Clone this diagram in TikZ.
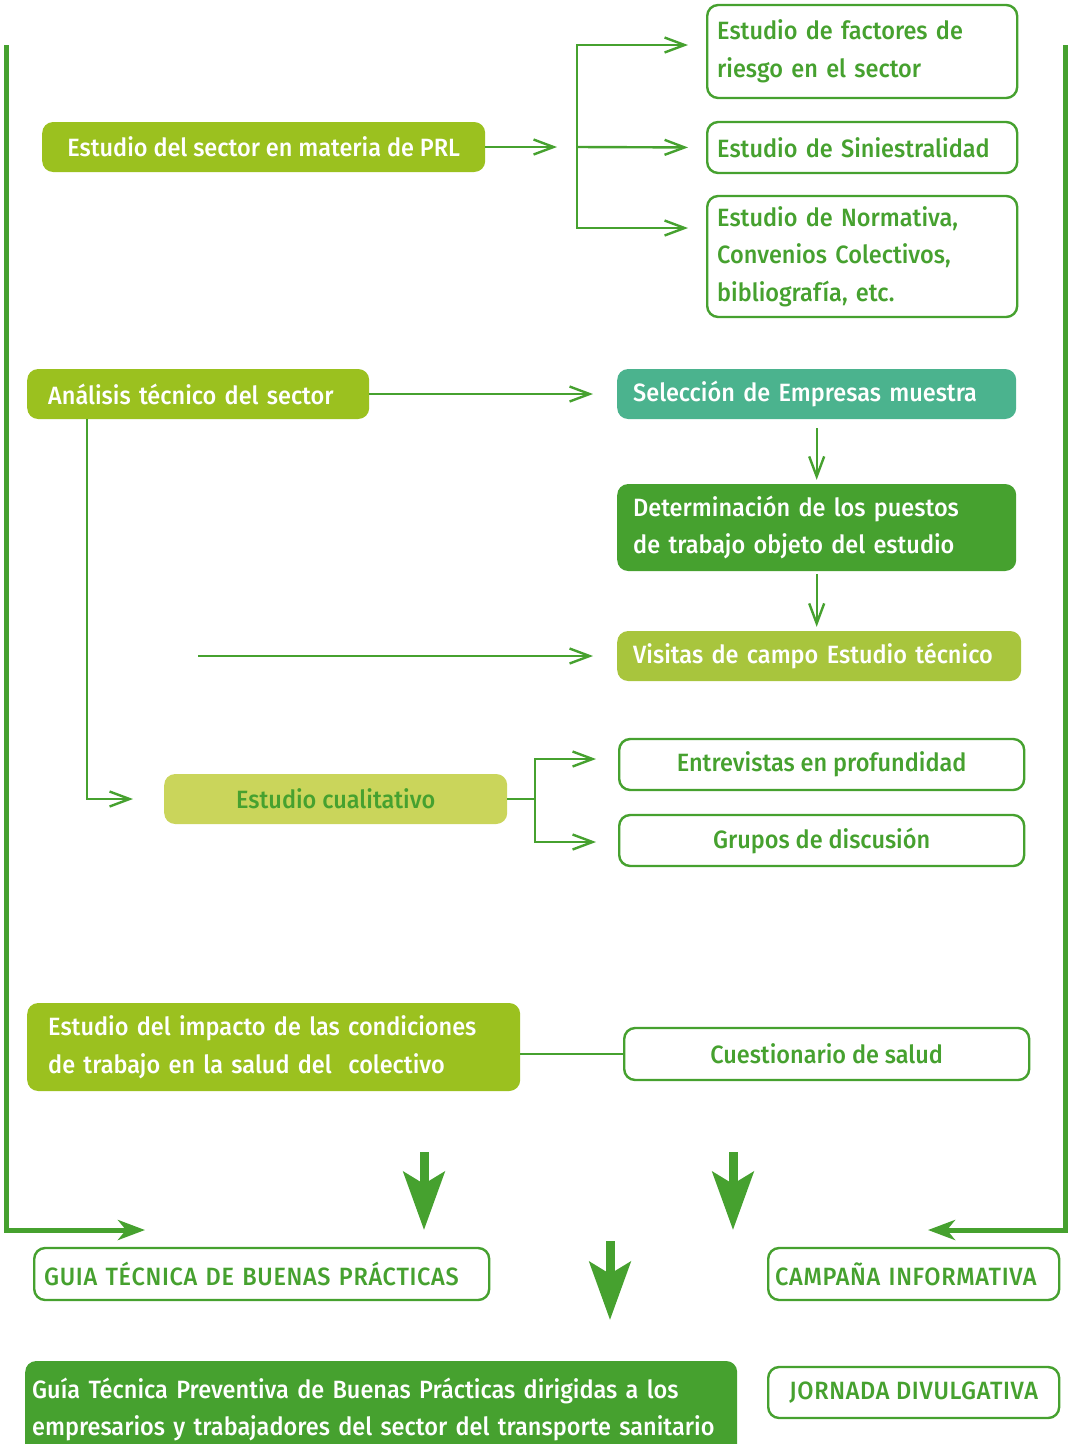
\documentclass[tikz,border=0pt]{standalone}
\usepackage{fontspec}
\setmainfont{Fira Sans}[UprightFont={* Medium}, FakeStretch=0.94]
\usetikzlibrary{arrows.meta}
\definecolor{lineg}{HTML}{46A12F}
\definecolor{prlg}{HTML}{9BC11F}
\definecolor{selg}{HTML}{4BB38E}
\definecolor{visg}{HTML}{A8C53D}
\definecolor{cuag}{HTML}{CAD55B}
\begin{document}
\begin{tikzpicture}[x=1pt, y=-1pt,
  every node/.style = {rounded corners=11pt, anchor=west,
    inner ysep=0pt, font=\fontsize{25}{37.5}\selectfont},
  solidbox/.style = {fill=#1, text=white, align=left},
  openbox/.style = {draw=lineg, line width=2.4pt, fill=white, text=lineg},
  caps/.style = {font=\fontsize{25}{37.5}\selectfont\addfontfeature{LetterSpace=2.7}},
  plain/.style = {draw=lineg, line width=2.4pt},
  link/.style = {plain, -{Straight Barb[length=20pt,width=15pt]}},
  frame/.style = {draw=lineg, line width=5pt, -{Stealth[length=27pt,width=20pt,inset=8pt]}},
  fat/.style = {draw=lineg, line width=9pt, -{Stealth[length=58pt,width=41pt,inset=12pt]}}]
  \useasboundingbox (0,0) rectangle (1070,1444);

  \node[solidbox=prlg, align=center, minimum width=443, minimum height=50, inner xsep=10]
    (prl) at (42,147) {Estudio del sector en materia de PRL};
  \node[openbox, align=left, minimum width=310, minimum height=93, inner xsep=10, text width=290]
    (fac) at (706,51.5) {Estudio de factores de\\riesgo en el sector};
  \node[openbox, align=left, minimum width=310, minimum height=51, inner xsep=10, text width=290]
    (sin) at (706,147.5) {Estudio de Siniestralidad};
  \node[openbox, align=left, minimum width=310, minimum height=121, inner xsep=10, text width=290]
    (nor) at (706,256.5) {Estudio de Normativa,\\Convenios Colectivos,\\bibliografía, etc.};

  \node[solidbox=prlg, minimum width=342, minimum height=50, inner xsep=21, text width=300]
    (ana) at (27,394) {Análisis técnico del sector};
  \node[solidbox=selg, minimum width=399, minimum height=50, inner xsep=16, text width=367]
    (sel) at (617,394) {Selección de Empresas muestra};
  \node[solidbox=lineg, minimum width=399, minimum height=87, inner xsep=16, text width=367]
    (det) at (617,527.5) {Determinación de los puestos\\de trabajo objeto del estudio};
  \node[solidbox=visg, minimum width=404, minimum height=50, inner xsep=16, text width=372]
    (vis) at (617,656) {Visitas de campo Estudio técnico};

  \node[fill=cuag, text=lineg, align=center, minimum width=343, minimum height=50]
    (cua) at (164,799) {Estudio cualitativo};
  \node[openbox, align=center, minimum width=405, minimum height=51]
    (ent) at (618,764.5) {Entrevistas en profundidad};
  \node[openbox, align=center, minimum width=405, minimum height=51]
    (gru) at (618,840.5) {Grupos de discusión};

  \node[solidbox=prlg, minimum width=493, minimum height=88, inner xsep=21, text width=451]
    (imp) at (27,1047) {Estudio del impacto de las condiciones\\de trabajo en la salud del\ \ colectivo};
  \node[openbox, align=center, minimum width=405, minimum height=52]
    (cue) at (623,1054) {Cuestionario de salud};

  \node[openbox, caps, align=left, minimum width=455, minimum height=52, inner xsep=10, text width=435]
    (gtb) at (33,1274) {GUIA TÉCNICA DE BUENAS PRÁCTICAS};
  \node[openbox, caps, align=left, minimum width=291, minimum height=52, inner xsep=7, text width=277]
    (cam) at (767,1274) {CAMPAÑA INFORMATIVA};
  \node[solidbox=lineg, minimum width=712, minimum height=97, inner xsep=7, text width=698]
    (gui) at (25,1409.5) {Guía Técnica Preventiva de Buenas Prácticas dirigidas a los\\empresarios y trabajadores del sector del transporte sanitario};
  \node[openbox, caps, align=center, minimum width=291, minimum height=51]
    (jor) at (767,1392.5) {JORNADA DIVULGATIVA};

  \coordinate (spine) at (577,147);
  \draw[link, shorten >=20pt] (prl.east) -- (spine);
  \draw[link, shorten >=18pt] (spine) |- ([yshift=6.5pt]fac.west);
  \draw[link, shorten >=18pt] (spine) -- (sin.west);
  \draw[link, shorten >=18pt] (spine) |- ([yshift=28.5pt]nor.west);

  \draw[link, shorten >=24pt] (ana) -- (sel);
  \draw[link, shorten <=9pt, shorten >=4pt] (sel) -- (det);
  \draw[link, shorten <=3pt, shorten >=4pt] (det.south) -- (det.south |- vis.north);
  \coordinate (vstart) at (198,656);
  \draw[link, shorten >=24pt] (vstart) -- (vis.west);

  \draw[link, shorten >=31pt] ([xshift=60pt]ana.south west) |- (cua.west);
  \coordinate (cfork) at (535,799);
  \draw[plain] (cua.east) -- (cfork);
  \draw[link, shorten >=22pt] (cfork) |- ([yshift=5.5pt]ent.west);
  \draw[link, shorten >=22pt] (cfork) |- ([yshift=-1.5pt]gru.west);
  \draw[plain] (imp.east |- cue.west) -- (cue.west);

  \coordinate (ltop) at (6,45);
  \coordinate (lend) at (145,1230);
  \coordinate (rtop) at (1065,45);
  \coordinate (rend) at (928,1230);
  \draw[frame] (ltop) |- (lend);
  \draw[frame] (rtop) |- (rend);

  \coordinate (gdown) at (424,1152);
  \coordinate (gtip) at (424,1230);
  \coordinate (cdown) at (733,1152);
  \coordinate (ctip) at (733,1230);
  \coordinate (jdown) at (610,1241);
  \coordinate (jtip) at (610,1320);
  \draw[fat] (gdown) -- (gtip);
  \draw[fat] (cdown) -- (ctip);
  \draw[fat] (jdown) -- (jtip);
\end{tikzpicture}
\end{document}
